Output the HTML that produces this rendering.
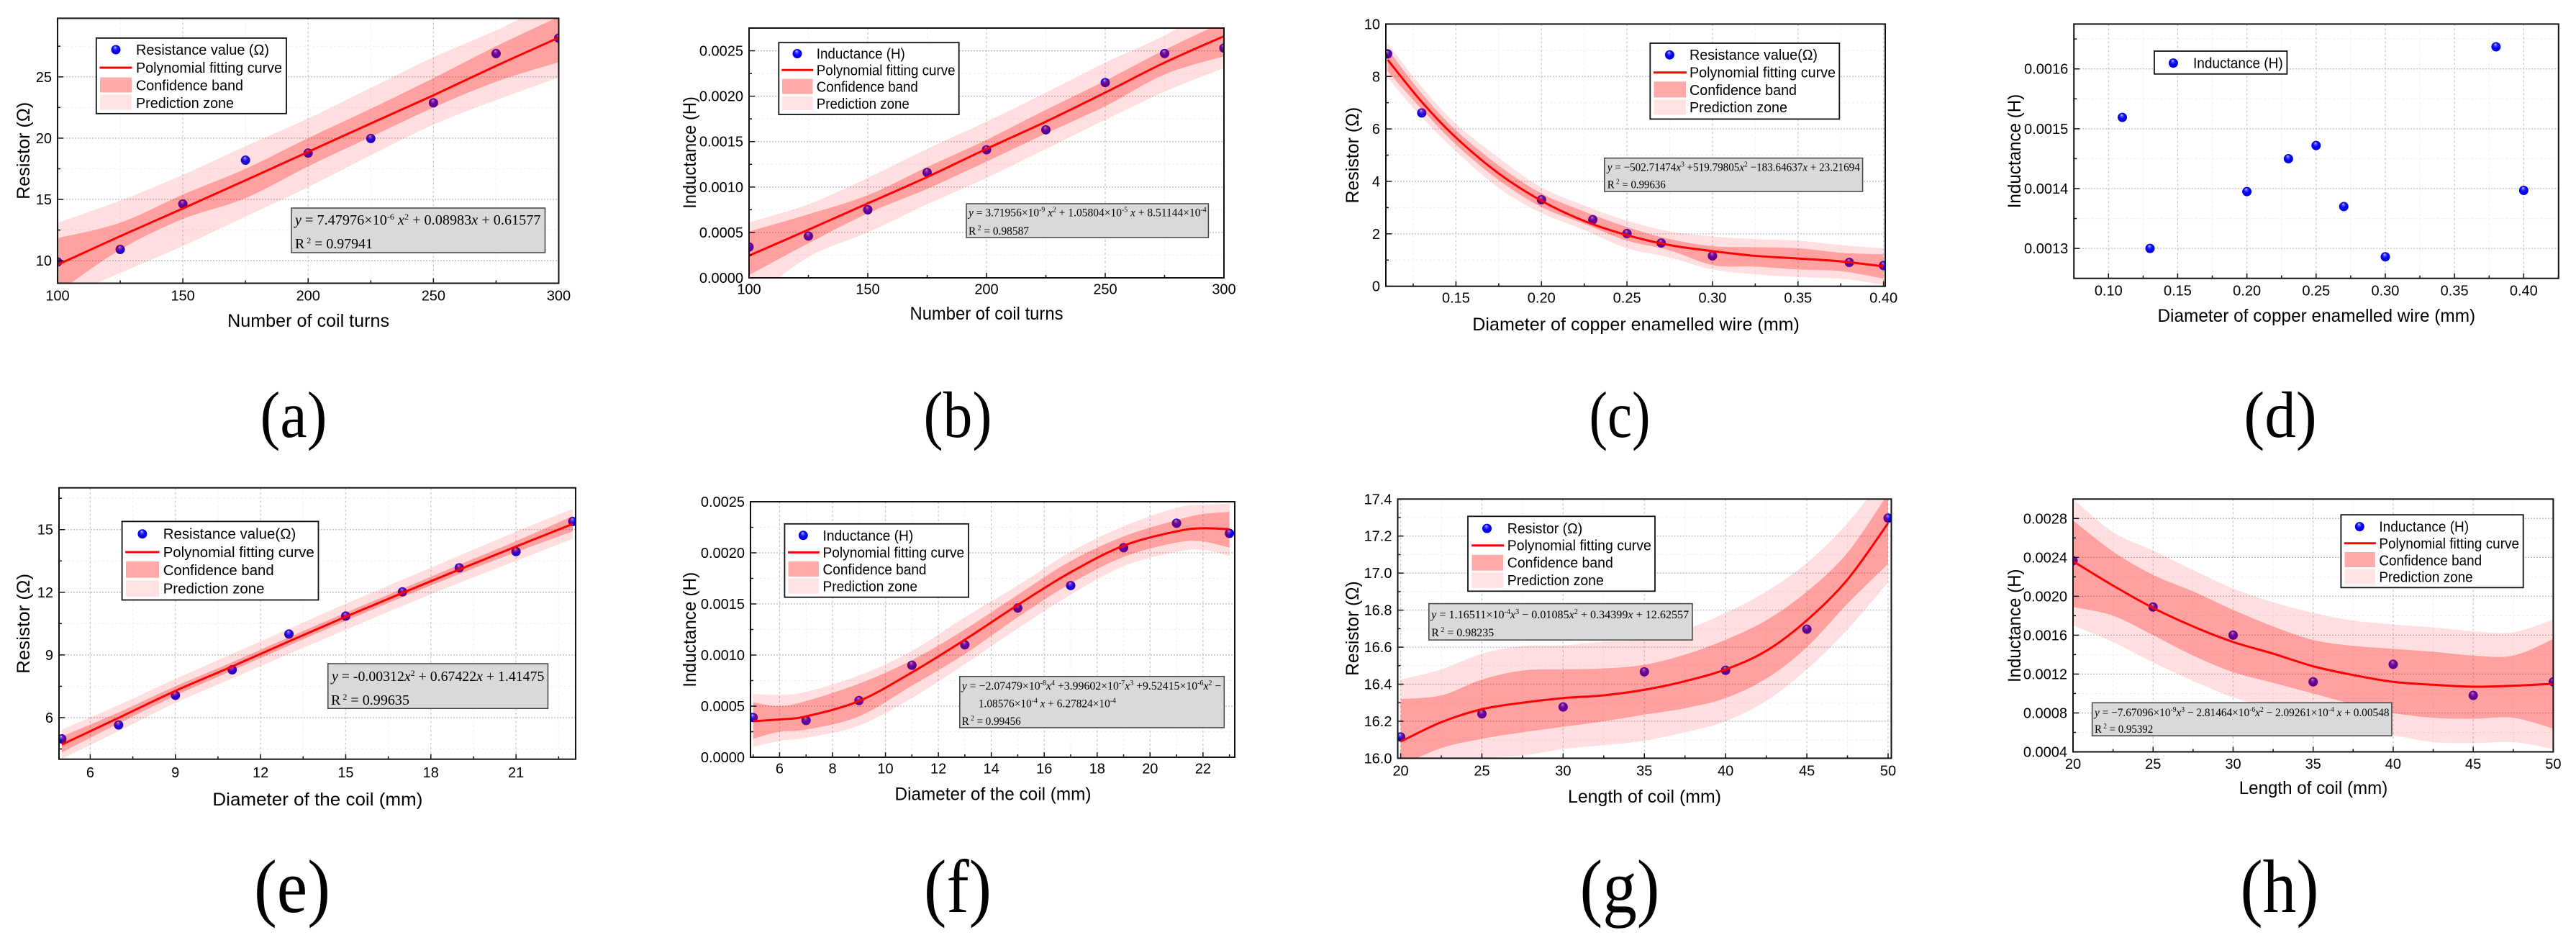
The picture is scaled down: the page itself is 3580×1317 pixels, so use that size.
<!DOCTYPE html>
<html lang="en">
<head>
<meta charset="utf-8">
<title>Coil resistance and inductance fits</title>
<style>
html,body{margin:0;padding:0;background:#fff;}
svg{display:block;}
text{fill:#000;}
.leg{font:20.5px "Liberation Sans",sans-serif;}
.title{font:25px "Liberation Sans",sans-serif;}
.tick{font:20px "Liberation Sans",sans-serif;}
.eq{font:16px "Liberation Serif",serif;}
.eq20{font:20px "Liberation Serif",serif;}
.cap1{font:91px "Liberation Serif",serif;}
.cap2{font:105px "Liberation Serif",serif;}
.it{font-style:italic;}
.box{fill:#d9d9d9;stroke:#444;stroke-width:1.5;}
.lb{fill:#fff;stroke:#111;stroke-width:1.8;}
.conf{fill:#ffa9a9;}
.pred{fill:#ffe2e2;}
.lline{stroke:#f00;stroke-width:3;}
</style>
</head>
<body>
<svg id="figure" xmlns="http://www.w3.org/2000/svg" width="3580" height="1317" viewBox="0 0 3580 1317">
<defs>
<radialGradient id="ball" cx="0.5" cy="0.5" r="0.55" fx="0.42" fy="0.22">
<stop offset="0" stop-color="#eef2ff"/>
<stop offset="0.2" stop-color="#5a5aff"/>
<stop offset="0.5" stop-color="#0808ff"/>
<stop offset="1" stop-color="#0000c8"/>
</radialGradient>
</defs>
<rect width="3580" height="1317" fill="#fff"/>

<!-- Panel a -->
<g>
<g id="marks-a"></g>
<g>
<rect class="lb" x="133.8" y="52.9" width="264.2" height="104.9"/>
<circle cx="161" cy="69" r="6.5" fill="url(#ball)"/>
<line class="lline" x1="138.5" x2="183.5" y1="94" y2="94"/>
<rect class="conf" x="139" y="107.5" width="44" height="21"/>
<rect class="pred" x="139" y="131.6" width="44" height="21"/>
<text class="leg" x="189" y="76" textLength="185" lengthAdjust="spacingAndGlyphs">Resistance value (Ω)</text>
<text class="leg" x="189" y="101" textLength="203" lengthAdjust="spacingAndGlyphs">Polynomial fitting curve</text>
<text class="leg" x="189" y="125.4" textLength="149" lengthAdjust="spacingAndGlyphs">Confidence band</text>
<text class="leg" x="189" y="150" textLength="136" lengthAdjust="spacingAndGlyphs">Prediction zone</text>
</g>
<g>
<rect class="box" x="405" y="289" width="352.5" height="62"/>
<text class="eq20" x="410" y="312" textLength="341.5" lengthAdjust="spacingAndGlyphs"><tspan class="it">y</tspan> = 7.47976×10<tspan dy="-7" font-size="12">-6</tspan><tspan dy="7" class="it"> x</tspan><tspan dy="-7" font-size="12">2</tspan><tspan dy="7"> + 0.08983</tspan><tspan class="it">x</tspan> + 0.61577</text>
<text class="eq20" x="410" y="345" textLength="108" lengthAdjust="spacingAndGlyphs">R<tspan dy="-7" font-size="12"> 2</tspan><tspan dy="7"> = 0.97941</tspan></text>
</g>
<text class="title" text-anchor="middle" transform="translate(41,209.4) rotate(-90)" textLength="135" lengthAdjust="spacingAndGlyphs">Resistor (Ω)</text>
<text class="title" text-anchor="middle" x="428.6" y="454" textLength="225" lengthAdjust="spacingAndGlyphs">Number of coil turns</text>
<text class="cap1" text-anchor="middle" x="408" y="607" textLength="93" lengthAdjust="spacingAndGlyphs">(a)</text>
</g>

<!-- Panel b -->
<g>
<g id="marks-b"></g>
<g>
<rect class="lb" x="1082.3" y="59.2" width="250.4" height="99.8"/>
<circle cx="1108" cy="74.5" r="6.5" fill="url(#ball)"/>
<line class="lline" x1="1086.3" x2="1130.2" y1="97.3" y2="97.3"/>
<rect class="conf" x="1087" y="109.6" width="42.5" height="21"/>
<rect class="pred" x="1087" y="133.7" width="42.5" height="19.5"/>
<text class="leg" x="1134.8" y="81.5" textLength="123" lengthAdjust="spacingAndGlyphs">Inductance (H)</text>
<text class="leg" x="1134.8" y="104.3" textLength="192.7" lengthAdjust="spacingAndGlyphs">Polynomial fitting curve</text>
<text class="leg" x="1134.8" y="127.6" textLength="141" lengthAdjust="spacingAndGlyphs">Confidence band</text>
<text class="leg" x="1134.8" y="150.8" textLength="129" lengthAdjust="spacingAndGlyphs">Prediction zone</text>
</g>
<g>
<rect class="box" x="1343" y="283" width="336.4" height="47"/>
<text class="eq" x="1346" y="300.5" textLength="330.6" lengthAdjust="spacingAndGlyphs"><tspan class="it">y</tspan> = 3.71956×10<tspan dy="-6" font-size="10">-9</tspan><tspan dy="6" class="it"> x</tspan><tspan dy="-6" font-size="10">2</tspan><tspan dy="6"> + 1.05804×10</tspan><tspan dy="-6" font-size="10">-5</tspan><tspan dy="6" class="it"> x</tspan> + 8.51144×10<tspan dy="-6" font-size="10">-4</tspan></text>
<text class="eq" x="1346" y="326" textLength="84" lengthAdjust="spacingAndGlyphs">R<tspan dy="-6" font-size="10"> 2</tspan><tspan dy="6"> = 0.98587</tspan></text>
</g>
<text class="title" text-anchor="middle" transform="translate(967,212) rotate(-90)" textLength="155.7" lengthAdjust="spacingAndGlyphs">Inductance (H)</text>
<text class="title" text-anchor="middle" x="1371" y="444" textLength="213" lengthAdjust="spacingAndGlyphs">Number of coil turns</text>
<text class="cap1" text-anchor="middle" x="1331" y="607" textLength="95" lengthAdjust="spacingAndGlyphs">(b)</text>
</g>

<!-- Panel c -->
<g>
<g id="marks-c"></g>
<g>
<rect class="lb" x="2293.3" y="60" width="263" height="105.4"/>
<circle cx="2320.4" cy="76.2" r="6.5" fill="url(#ball)"/>
<line class="lline" x1="2297.9" x2="2344" y1="100.7" y2="100.7"/>
<rect class="conf" x="2298.5" y="113.4" width="44.5" height="22"/>
<rect class="pred" x="2298.5" y="138.4" width="44.5" height="21"/>
<text class="leg" x="2348" y="83.2" textLength="178" lengthAdjust="spacingAndGlyphs">Resistance value(Ω)</text>
<text class="leg" x="2348" y="107.7" textLength="203" lengthAdjust="spacingAndGlyphs">Polynomial fitting curve</text>
<text class="leg" x="2348" y="131.8" textLength="149" lengthAdjust="spacingAndGlyphs">Confidence band</text>
<text class="leg" x="2348" y="155.9" textLength="136" lengthAdjust="spacingAndGlyphs">Prediction zone</text>
</g>
<g>
<rect class="box" x="2229.8" y="219.6" width="358.8" height="46.4"/>
<text class="eq" x="2233.8" y="237.5" textLength="351" lengthAdjust="spacingAndGlyphs"><tspan class="it">y</tspan> = −502.71474<tspan class="it">x</tspan><tspan dy="-6" font-size="10">3</tspan><tspan dy="6"> +519.79805</tspan><tspan class="it">x</tspan><tspan dy="-6" font-size="10">2</tspan><tspan dy="6"> −183.64637</tspan><tspan class="it">x</tspan> + 23.21694</text>
<text class="eq" x="2233.8" y="261.5" textLength="81" lengthAdjust="spacingAndGlyphs">R<tspan dy="-6" font-size="10"> 2</tspan><tspan dy="6"> = 0.99636</tspan></text>
</g>
<text class="title" text-anchor="middle" transform="translate(1888,215.7) rotate(-90)" textLength="133.7" lengthAdjust="spacingAndGlyphs">Resistor (Ω)</text>
<text class="title" text-anchor="middle" x="2273.6" y="459" textLength="454.6" lengthAdjust="spacingAndGlyphs">Diameter of copper enamelled wire (mm)</text>
<text class="cap1" text-anchor="middle" x="2251" y="607" textLength="85" lengthAdjust="spacingAndGlyphs">(c)</text>
</g>

<!-- Panel d -->
<g>
<g id="marks-d"></g>
<g>
<rect class="lb" x="2993.9" y="71" width="184.5" height="31.8"/>
<circle cx="3020.4" cy="87.6" r="6.5" fill="url(#ball)"/>
<text class="leg" x="3048" y="94.6" textLength="124.7" lengthAdjust="spacingAndGlyphs">Inductance (H)</text>
</g>
<text class="title" text-anchor="middle" transform="translate(2808,210) rotate(-90)" textLength="158.6" lengthAdjust="spacingAndGlyphs">Inductance (H)</text>
<text class="title" text-anchor="middle" x="3219.3" y="446.8" textLength="441.7" lengthAdjust="spacingAndGlyphs">Diameter of copper enamelled wire (mm)</text>
<text class="cap1" text-anchor="middle" x="3169" y="607" textLength="101.5" lengthAdjust="spacingAndGlyphs">(d)</text>
</g>

<!-- Panel e -->
<g>
<g id="marks-e"></g>
<g>
<rect class="lb" x="169.6" y="724.4" width="272.9" height="109.1"/>
<circle cx="197.9" cy="741.7" r="6.5" fill="url(#ball)"/>
<line class="lline" x1="174.2" x2="221.5" y1="767" y2="767"/>
<rect class="conf" x="175" y="780" width="46" height="22.8"/>
<rect class="pred" x="175" y="806.2" width="46" height="22.7"/>
<text class="leg" x="226.7" y="748.7" textLength="184.6" lengthAdjust="spacingAndGlyphs">Resistance value(Ω)</text>
<text class="leg" x="226.7" y="774" textLength="210" lengthAdjust="spacingAndGlyphs">Polynomial fitting curve</text>
<text class="leg" x="226.7" y="798.8" textLength="154" lengthAdjust="spacingAndGlyphs">Confidence band</text>
<text class="leg" x="226.7" y="824.5" textLength="140.8" lengthAdjust="spacingAndGlyphs">Prediction zone</text>
</g>
<g>
<rect class="box" x="455.8" y="922" width="305.7" height="62.3"/>
<text class="eq20" x="461" y="946" textLength="295.4" lengthAdjust="spacingAndGlyphs"><tspan class="it">y</tspan> = -0.00312<tspan class="it">x</tspan><tspan dy="-7" font-size="12">2</tspan><tspan dy="7"> + 0.67422</tspan><tspan class="it">x</tspan> + 1.41475</text>
<text class="eq20" x="460" y="979" textLength="109" lengthAdjust="spacingAndGlyphs">R<tspan dy="-7" font-size="12"> 2</tspan><tspan dy="7"> = 0.99635</tspan></text>
</g>
<text class="title" text-anchor="middle" transform="translate(41,866.4) rotate(-90)" textLength="139" lengthAdjust="spacingAndGlyphs">Resistor (Ω)</text>
<text class="title" text-anchor="middle" x="441.4" y="1119" textLength="292" lengthAdjust="spacingAndGlyphs">Diameter of the coil (mm)</text>
<text class="cap2" text-anchor="middle" x="406" y="1267" textLength="106" lengthAdjust="spacingAndGlyphs">(e)</text>
</g>

<!-- Panel f -->
<g>
<g id="marks-f"></g>
<g>
<rect class="lb" x="1090.4" y="727.8" width="255.6" height="101.9"/>
<circle cx="1116.3" cy="743.8" r="6.5" fill="url(#ball)"/>
<line class="lline" x1="1095" x2="1138.8" y1="767.4" y2="767.4"/>
<rect class="conf" x="1095.5" y="780" width="42.5" height="21.1"/>
<rect class="pred" x="1095.5" y="803.6" width="42.5" height="21.1"/>
<text class="leg" x="1143.5" y="750.8" textLength="125.8" lengthAdjust="spacingAndGlyphs">Inductance (H)</text>
<text class="leg" x="1143.5" y="774.4" textLength="196.7" lengthAdjust="spacingAndGlyphs">Polynomial fitting curve</text>
<text class="leg" x="1143.5" y="798" textLength="144" lengthAdjust="spacingAndGlyphs">Confidence band</text>
<text class="leg" x="1143.5" y="821.6" textLength="131.5" lengthAdjust="spacingAndGlyphs">Prediction zone</text>
</g>
<g>
<rect class="box" x="1333.8" y="939.7" width="367.5" height="71.2"/>
<text class="eq" x="1336.7" y="958" textLength="360.6" lengthAdjust="spacingAndGlyphs"><tspan class="it">y</tspan> = −2.07479×10<tspan dy="-6" font-size="10">-8</tspan><tspan dy="6" class="it">x</tspan><tspan dy="-6" font-size="10">4</tspan><tspan dy="6"> +3.99602×10</tspan><tspan dy="-6" font-size="10">-7</tspan><tspan dy="6" class="it">x</tspan><tspan dy="-6" font-size="10">3</tspan><tspan dy="6"> +9.52415×10</tspan><tspan dy="-6" font-size="10">-6</tspan><tspan dy="6" class="it">x</tspan><tspan dy="-6" font-size="10">2</tspan><tspan dy="6"> −</tspan></text>
<text class="eq" x="1359.8" y="982.5" textLength="191" lengthAdjust="spacingAndGlyphs">1.08576×10<tspan dy="-6" font-size="10">-4</tspan><tspan dy="6" class="it"> x</tspan> + 6.27824×10<tspan dy="-6" font-size="10">-4</tspan></text>
<text class="eq" x="1336.7" y="1007" textLength="82" lengthAdjust="spacingAndGlyphs">R<tspan dy="-6" font-size="10"> 2</tspan><tspan dy="6"> = 0.99456</tspan></text>
</g>
<text class="title" text-anchor="middle" transform="translate(967,874.8) rotate(-90)" textLength="160" lengthAdjust="spacingAndGlyphs">Inductance (H)</text>
<text class="title" text-anchor="middle" x="1380" y="1111.5" textLength="273" lengthAdjust="spacingAndGlyphs">Diameter of the coil (mm)</text>
<text class="cap2" text-anchor="middle" x="1331" y="1267" textLength="94" lengthAdjust="spacingAndGlyphs">(f)</text>
</g>

<!-- Panel g -->
<g>
<g id="marks-g"></g>
<g>
<rect class="lb" x="2040" y="717.3" width="260" height="104"/>
<circle cx="2066.5" cy="734.1" r="6.5" fill="url(#ball)"/>
<line class="lline" x1="2045.2" x2="2090.2" y1="757.7" y2="757.7"/>
<rect class="conf" x="2045.5" y="770.8" width="43.5" height="21.9"/>
<rect class="pred" x="2045.5" y="795.2" width="43.5" height="21.5"/>
<text class="leg" x="2094.8" y="741.1" textLength="104.4" lengthAdjust="spacingAndGlyphs">Resistor (Ω)</text>
<text class="leg" x="2094.8" y="764.7" textLength="200" lengthAdjust="spacingAndGlyphs">Polynomial fitting curve</text>
<text class="leg" x="2094.8" y="788.7" textLength="147" lengthAdjust="spacingAndGlyphs">Confidence band</text>
<text class="leg" x="2094.8" y="813.2" textLength="134" lengthAdjust="spacingAndGlyphs">Prediction zone</text>
</g>
<g>
<rect class="box" x="1985.8" y="838.6" width="366.2" height="50.5"/>
<text class="eq" x="1989.2" y="859" textLength="358" lengthAdjust="spacingAndGlyphs"><tspan class="it">y</tspan> = 1.16511×10<tspan dy="-6" font-size="10">-4</tspan><tspan dy="6" class="it">x</tspan><tspan dy="-6" font-size="10">3</tspan><tspan dy="6"> − 0.01085</tspan><tspan class="it">x</tspan><tspan dy="-6" font-size="10">2</tspan><tspan dy="6"> + 0.34399</tspan><tspan class="it">x</tspan> + 12.62557</text>
<text class="eq" x="1989.2" y="884" textLength="87" lengthAdjust="spacingAndGlyphs">R<tspan dy="-6" font-size="10"> 2</tspan><tspan dy="6"> = 0.98235</tspan></text>
</g>
<text class="title" text-anchor="middle" transform="translate(1888,873) rotate(-90)" textLength="131.4" lengthAdjust="spacingAndGlyphs">Resistor (Ω)</text>
<text class="title" text-anchor="middle" x="2285.5" y="1115" textLength="213" lengthAdjust="spacingAndGlyphs">Length of coil (mm)</text>
<text class="cap2" text-anchor="middle" x="2251" y="1267" textLength="111" lengthAdjust="spacingAndGlyphs">(g)</text>
</g>

<!-- Panel h -->
<g>
<g id="marks-h"></g>
<g>
<rect class="lb" x="3253.4" y="715.2" width="253.3" height="101.1"/>
<circle cx="3279.3" cy="731.6" r="6.5" fill="url(#ball)"/>
<line class="lline" x1="3257.9" x2="3301.9" y1="754.8" y2="754.8"/>
<rect class="conf" x="3258.5" y="767" width="42.3" height="21"/>
<rect class="pred" x="3258.5" y="790.6" width="42.3" height="21"/>
<text class="leg" x="3306.4" y="738.6" textLength="124.7" lengthAdjust="spacingAndGlyphs">Inductance (H)</text>
<text class="leg" x="3306.4" y="761.8" textLength="194.6" lengthAdjust="spacingAndGlyphs">Polynomial fitting curve</text>
<text class="leg" x="3306.4" y="785.4" textLength="142.7" lengthAdjust="spacingAndGlyphs">Confidence band</text>
<text class="leg" x="3306.4" y="808.5" textLength="130.3" lengthAdjust="spacingAndGlyphs">Prediction zone</text>
</g>
<g>
<rect class="box" x="2907.6" y="976.3" width="416.3" height="45.9"/>
<text class="eq" x="2911" y="995" textLength="409.5" lengthAdjust="spacingAndGlyphs"><tspan class="it">y</tspan> = −7.67096×10<tspan dy="-6" font-size="10">-9</tspan><tspan dy="6" class="it">x</tspan><tspan dy="-6" font-size="10">3</tspan><tspan dy="6"> − 2.81464×10</tspan><tspan dy="-6" font-size="10">-6</tspan><tspan dy="6" class="it">x</tspan><tspan dy="-6" font-size="10">2</tspan><tspan dy="6"> − 2.09261×10</tspan><tspan dy="-6" font-size="10">-4</tspan><tspan dy="6" class="it"> x</tspan> + 0.00548</text>
<text class="eq" x="2911" y="1018" textLength="81.2" lengthAdjust="spacingAndGlyphs">R<tspan dy="-6" font-size="10"> 2</tspan><tspan dy="6"> = 0.95392</tspan></text>
</g>
<text class="title" text-anchor="middle" transform="translate(2808,869.3) rotate(-90)" textLength="157.5" lengthAdjust="spacingAndGlyphs">Inductance (H)</text>
<text class="title" text-anchor="middle" x="3215" y="1103" textLength="206.5" lengthAdjust="spacingAndGlyphs">Length of coil (mm)</text>
<text class="cap2" text-anchor="middle" x="3168" y="1267" textLength="109" lengthAdjust="spacingAndGlyphs">(h)</text>
</g>
</svg>

<script>
/* ---------- Panel a data ---------- */
const aXDomain = [100, 300];
const aYDomain = [8.16, 29.78];
const aXTicks = ['100', '150', '200', '250', '300'];
const aYTicks = ['10', '15', '20', '25'];
const aPointX = [100, 125, 150, 175, 200, 225, 250, 275, 300];
const aPointY = [9.9, 10.92, 14.63, 18.2, 18.78, 19.97, 22.88, 26.9, 28.16];
const aCurveX = [100, 125, 150, 175, 200, 225, 250, 275, 300];
const aFit = [9.67, 12.0, 14.26, 16.56, 18.88, 21.2, 23.5, 25.9, 28.2];
const aConfUpper = [11.84, 13.1, 15.4, 17.5, 20, 22.4, 24.9, 27.5, 29.9];
const aConfLower = [7.4, 10.9, 13.4, 15.1, 17.7, 20.1, 22.5, 24.6, 26.2];
const aPredUpper = [13.1, 14.9, 17, 19.35, 21.6, 24.1, 26.6, 28.8, 31.3];
const aPredLower = [6.8, 9, 11.2, 13.6, 16, 18.6, 21.1, 23.1, 24.95];

/* ---------- Panel b data ---------- */
const bXDomain = [100, 300];
const bYDomain = [0, 0.00275];
const bXTicks = ['100', '150', '200', '250', '300'];
const bYTicks = ['0.0000', '0.0005', '0.0010', '0.0015', '0.0020', '0.0025'];
const bPointX = [100, 125, 150, 175, 200, 225, 250, 275, 300];
const bPointY = [0.00034, 0.00046, 0.00075, 0.00116, 0.00141, 0.00163, 0.00215, 0.00247, 0.00253];
const bCurveX = [100, 125, 150, 175, 200, 225, 250, 275, 300];
const bFit = [0.000245, 0.00053, 0.00082, 0.00111, 0.00142, 0.00172, 0.00204, 0.00237, 0.00266];
const bConfUpper = [0.00051, 0.0007, 0.00091, 0.00122, 0.00152, 0.00185, 0.00217, 0.00251, 0.00282];
const bConfLower = [0.00003, 0.00038, 0.00071, 0.00098, 0.00128, 0.00159, 0.00189, 0.00224, 0.00244];
const bPredUpper = [0.00061, 0.00081, 0.0011, 0.00142, 0.00172, 0.00204, 0.00237, 0.00267, 0.00306];
const bPredLower = [-0.00026, 0.00023, 0.0005, 0.00081, 0.0011, 0.00142, 0.00174, 0.00205, 0.00231];

/* ---------- Panel c data ---------- */
const cXDomain = [0.109, 0.401];
const cYDomain = [0, 10];
const cXTicks = ['0.15', '0.20', '0.25', '0.30', '0.35', '0.40'];
const cYTicks = ['0', '2', '4', '6', '8', '10'];
const cPointX = [0.11, 0.13, 0.20, 0.23, 0.25, 0.27, 0.30, 0.38, 0.40];
const cPointY = [8.86, 6.61, 3.3, 2.54, 2.01, 1.65, 1.16, 0.91, 0.79];
const cCurveX = [0.11, 0.13, 0.15, 0.175, 0.20, 0.225, 0.25, 0.275, 0.30, 0.325, 0.35, 0.375, 0.40];
const cFit = [8.64, 7.03, 5.67, 4.3, 3.26, 2.49, 1.95, 1.57, 1.34, 1.16, 1.06, 0.95, 0.76];
const cConfUpper = [9.05, 7.35, 5.95, 4.6, 3.54, 2.85, 2.26, 1.8, 1.53, 1.49, 1.45, 1.28, 1.22];
const cConfLower = [8.2, 6.75, 5.4, 4.05, 3.02, 2.38, 1.74, 1.37, 0.81, 0.75, 0.64, 0.58, 0.29];
const cPredUpper = [9.27, 7.6, 6.2, 4.9, 3.77, 3.08, 2.5, 2.09, 1.9, 1.8, 1.74, 1.57, 1.45];
const cPredLower = [7.95, 6.45, 5.15, 3.75, 2.79, 2.15, 1.45, 1.1, 0.64, 0.46, 0.35, 0.29, 0.06];

/* ---------- Panel d data ---------- */
const dXDomain = [0.075, 0.4252];
const dYDomain = [0.00125, 0.001675];
const dXTicks = ['0.10', '0.15', '0.20', '0.25', '0.30', '0.35', '0.40'];
const dYTicks = ['0.0013', '0.0014', '0.0015', '0.0016'];
const dPointX = [0.11, 0.13, 0.20, 0.23, 0.25, 0.27, 0.30, 0.38, 0.40];
const dPointY = [0.001519, 0.0013, 0.001395, 0.00145, 0.001472, 0.00137, 0.001286, 0.001637, 0.001397];

/* ---------- Panel e data ---------- */
const eXDomain = [4.9, 23.1];
const eYDomain = [4.01, 17.0];
const eXTicks = ['6', '9', '12', '15', '18', '21'];
const eYTicks = ['6', '9', '12', '15'];
const ePointX = [5, 7, 9, 11, 13, 15, 17, 19, 21, 23];
const ePointY = [4.98, 5.65, 7.07, 8.29, 10.0, 10.86, 12.02, 13.17, 13.95, 15.39];
const eCurveX = [5, 7, 9, 11, 13, 15, 17, 19, 21, 23];
const eFit = [4.71, 5.99, 7.28, 8.45, 9.65, 10.83, 11.97, 13.09, 14.19, 15.27];
const eConfUpper = [5.1, 6.25, 7.5, 8.65, 9.85, 11.02, 12.17, 13.32, 14.45, 15.65];
const eConfLower = [4.33, 5.72, 7.05, 8.25, 9.45, 10.63, 11.77, 12.87, 13.92, 14.92];
const ePredUpper = [5.42, 6.6, 7.85, 9.05, 10.25, 11.45, 12.6, 13.75, 14.9, 16.0];
const ePredLower = [4.03, 5.35, 6.7, 7.87, 9.05, 10.2, 11.35, 12.45, 13.5, 14.56];

/* ---------- Panel f data ---------- */
const fXDomain = [4.9, 23.2];
const fYDomain = [0, 0.0025];
const fXTicks = ['6', '8', '10', '12', '14', '16', '18', '20', '22'];
const fYTicks = ['0.0000', '0.0005', '0.0010', '0.0015', '0.0020', '0.0025'];
const fPointX = [5, 7, 9, 11, 13, 15, 17, 19, 21, 23];
const fPointY = [0.000389, 0.00036, 0.000555, 0.0009, 0.0011, 0.00146, 0.00168, 0.00205, 0.00229, 0.00219];
const fCurveX = [5, 6, 7, 9, 11, 13, 15, 17, 19, 21, 22, 23];
const fFit = [0.000353, 0.00037, 0.0004, 0.00055, 0.00083, 0.00115, 0.00149, 0.00181, 0.00207, 0.00221, 0.00224, 0.00223];
const fConfUpper = [0.000537, 0.0005, 0.00055, 0.00072, 0.00095, 0.00125, 0.00159, 0.00192, 0.00216, 0.00232, 0.00238, 0.0024];
const fConfLower = [0.00018, 0.00025, 0.00027, 0.0004, 0.0007, 0.00101, 0.00137, 0.0017, 0.00196, 0.0021, 0.00211, 0.00205];
const fPredUpper = [0.00062, 0.00061, 0.00064, 0.0008, 0.00104, 0.00137, 0.00168, 0.00201, 0.00226, 0.00244, 0.00247, 0.00248];
const fPredLower = [0.0001, 0.00016, 0.00019, 0.00031, 0.00058, 0.00091, 0.00126, 0.00159, 0.00187, 0.00201, 0.00203, 0.00197];

/* ---------- Panel g data ---------- */
const gXDomain = [19.82, 50.2];
const gYDomain = [16.0, 17.4];
const gXTicks = ['20', '25', '30', '35', '40', '45', '50'];
const gYTicks = ['16.0', '16.2', '16.4', '16.6', '16.8', '17.0', '17.2', '17.4'];
const gPointX = [20, 25, 30, 35, 40, 45, 50];
const gPointY = [16.115, 16.24, 16.277, 16.467, 16.475, 16.697, 17.297];
const gCurveX = [20, 22.5, 25, 27.5, 30, 32.5, 35, 37.5, 40, 42.5, 45, 47.5, 50];
const gFit = [16.09, 16.195, 16.265, 16.3, 16.325, 16.34, 16.37, 16.416, 16.48, 16.58, 16.745, 16.965, 17.27];
const gConfUpper = [16.32, 16.34, 16.425, 16.474, 16.48, 16.485, 16.505, 16.56, 16.64, 16.745, 16.9, 17.11, 17.43];
const gConfLower = [15.96, 16.055, 16.105, 16.14, 16.17, 16.2, 16.236, 16.27, 16.325, 16.43, 16.6, 16.835, 17.05];
const gPredUpper = [16.425, 16.48, 16.565, 16.605, 16.61, 16.63, 16.64, 16.695, 16.785, 16.9, 17.055, 17.27, 17.55];
const gPredLower = [15.875, 15.96, 16.0, 16.015, 16.05, 16.07, 16.095, 16.14, 16.2, 16.31, 16.48, 16.695, 16.95];

/* ---------- Panel h data ---------- */
const hXDomain = [20, 50];
const hYDomain = [0.0004, 0.003];
const hXTicks = ['20', '25', '30', '35', '40', '45', '50'];
const hYTicks = ['0.0004', '0.0008', '0.0012', '0.0016', '0.0020', '0.0024', '0.0028'];
const hPointX = [20, 25, 30, 35, 40, 45, 50];
const hPointY = [0.002366, 0.00189, 0.0016, 0.00112, 0.0013, 0.00098, 0.00112];
const hCurveX = [20, 22.5, 25, 27.5, 30, 32.5, 35, 37.5, 40, 42.5, 45, 47.5, 50];
const hFit = [0.00236, 0.00211, 0.00188, 0.00169, 0.00153, 0.00141, 0.00128, 0.00119, 0.00112, 0.00109, 0.00107, 0.00108, 0.0011];
const hConfUpper = [0.00278, 0.00246, 0.00222, 0.00205, 0.00186, 0.00169, 0.00155, 0.00149, 0.00146, 0.00143, 0.00139, 0.00139, 0.00156];
const hConfLower = [0.00189, 0.0018, 0.0016, 0.00139, 0.00122, 0.00111, 0.001, 0.00089, 0.0008, 0.00075, 0.00074, 0.00075, 0.00064];
const hPredUpper = [0.003, 0.00266, 0.00247, 0.00227, 0.00208, 0.00194, 0.00183, 0.00175, 0.00171, 0.00168, 0.00164, 0.00163, 0.00176];
const hPredLower = [0.0017, 0.00153, 0.00132, 0.00113, 0.00096, 0.00085, 0.00075, 0.00064, 0.00057, 0.0005, 0.00049, 0.0005, 0.00043];

/* ---------- Panel wiring: frame geometry lives here, values live above ---------- */
const panels = [
  {id:'a', left:80, right:776.5, top:25.4, bottom:393.5, labelDy:24, xd:aXDomain, yd:aYDomain, xt:aXTicks, yt:aYTicks, px:aPointX, py:aPointY, cx:aCurveX, fit:aFit, cu:aConfUpper, cl:aConfLower, pu:aPredUpper, pl:aPredLower},
  {id:'b', left:1041, right:1701, top:39, bottom:386, labelDy:22.6, xd:bXDomain, yd:bYDomain, xt:bXTicks, yt:bYTicks, px:bPointX, py:bPointY, cx:bCurveX, fit:bFit, cu:bConfUpper, cl:bConfLower, pu:bPredUpper, pl:bPredLower},
  {id:'c', left:1926, right:2620, top:33.4, bottom:397.7, labelDy:23, xd:cXDomain, yd:cYDomain, xt:cXTicks, yt:cYTicks, px:cPointX, py:cPointY, cx:cCurveX, fit:cFit, cu:cConfUpper, cl:cConfLower, pu:cPredUpper, pl:cPredLower},
  {id:'d', left:2882.2, right:3555.8, top:33.4, bottom:386.7, labelDy:24, xd:dXDomain, yd:dYDomain, xt:dXTicks, yt:dYTicks, px:dPointX, py:dPointY},
  {id:'e', left:82, right:800, top:677.7, bottom:1054.7, labelDy:25.5, xd:eXDomain, yd:eYDomain, xt:eXTicks, yt:eYTicks, px:ePointX, py:ePointY, cx:eCurveX, fit:eFit, cu:eConfUpper, cl:eConfLower, pu:ePredUpper, pl:ePredLower},
  {id:'f', left:1043, right:1716, top:697, bottom:1052, labelDy:22.6, xd:fXDomain, yd:fYDomain, xt:fXTicks, yt:fYTicks, px:fPointX, py:fPointY, cx:fCurveX, fit:fFit, cu:fConfUpper, cl:fConfLower, pu:fPredUpper, pl:fPredLower},
  {id:'g', left:1942.5, right:2628.5, top:693.3, bottom:1053.4, labelDy:24.3, xd:gXDomain, yd:gYDomain, xt:gXTicks, yt:gYTicks, px:gPointX, py:gPointY, cx:gCurveX, fit:gFit, cu:gConfUpper, cl:gConfLower, pu:gPredUpper, pl:gPredLower},
  {id:'h', left:2881, right:3548.4, top:693.3, bottom:1044.5, labelDy:23.4, xd:hXDomain, yd:hYDomain, xt:hXTicks, yt:hYTicks, px:hPointX, py:hPointY, cx:hCurveX, fit:hFit, cu:hConfUpper, cl:hConfLower, pu:hPredUpper, pl:hPredLower}
];

const NS = 'http://www.w3.org/2000/svg';
function mk(tag, parent) {
  const el = document.createElementNS(NS, tag);
  parent.appendChild(el);
  return el;
}
function smooth(pts, moveFirst) {
  let d = (moveFirst ? 'M' : 'L') + pts[0][0].toFixed(2) + ' ' + pts[0][1].toFixed(2);
  for (let i = 0; i < pts.length - 1; i++) {
    const p0 = pts[Math.max(0, i - 1)], p1 = pts[i], p2 = pts[i + 1], p3 = pts[Math.min(pts.length - 1, i + 2)];
    const c1x = p1[0] + (p2[0] - p0[0]) / 6, c1y = p1[1] + (p2[1] - p0[1]) / 6;
    const c2x = p2[0] - (p3[0] - p1[0]) / 6, c2y = p2[1] - (p3[1] - p1[1]) / 6;
    d += 'C' + c1x.toFixed(2) + ' ' + c1y.toFixed(2) + ' ' + c2x.toFixed(2) + ' ' + c2y.toFixed(2) + ' ' + p2[0].toFixed(2) + ' ' + p2[1].toFixed(2);
  }
  return d;
}
function bandPath(cx, up, lo, sx, sy) {
  const u = cx.map((v, i) => [sx(v), sy(up[i])]);
  const l = cx.map((v, i) => [sx(v), sy(lo[i])]).reverse();
  return smooth(u, true) + smooth(l, false) + 'Z';
}
function minorValues(ticks, domain) {
  const vals = ticks.map(parseFloat);
  const step = vals[1] - vals[0];
  const out = [];
  for (let k = -2; k < vals.length + 2; k++) {
    const v = vals[0] + (k + 0.5) * step;
    if (v >= domain[0] && v <= domain[1]) out.push(v);
  }
  return out;
}

panels.forEach(function (p) {
  const root = document.getElementById('marks-' + p.id);
  const sx = v => p.left + (v - p.xd[0]) / (p.xd[1] - p.xd[0]) * (p.right - p.left);
  const sy = v => p.bottom - (v - p.yd[0]) / (p.yd[1] - p.yd[0]) * (p.bottom - p.top);

  const clip = mk('clipPath', root);
  clip.setAttribute('id', 'clip-' + p.id);
  const clipRect = mk('rect', clip);
  clipRect.setAttribute('x', p.left);
  clipRect.setAttribute('y', p.top);
  clipRect.setAttribute('width', p.right - p.left);
  clipRect.setAttribute('height', p.bottom - p.top);

  /* grid */
  minorValues(p.xt, p.xd).forEach(function (v) {
    const g = mk('line', root);
    
    
    g.setAttribute('x1', sx(v)); g.setAttribute('x2', sx(v));
    g.setAttribute('y1', p.top); g.setAttribute('y2', p.bottom);
    g.setAttribute('stroke', '#eee'); g.setAttribute('stroke-dasharray', '3 3');
  });
  minorValues(p.yt, p.yd).forEach(function (v) {
    const g = mk('line', root);
    
    
    g.setAttribute('x1', p.left); g.setAttribute('x2', p.right);
    g.setAttribute('y1', sy(v)); g.setAttribute('y2', sy(v));
    g.setAttribute('stroke', '#eee'); g.setAttribute('stroke-dasharray', '3 3');
  });
  p.xt.forEach(function (t) {
    const g = mk('line', root);
    
    
    g.setAttribute('x1', sx(parseFloat(t))); g.setAttribute('x2', sx(parseFloat(t)));
    g.setAttribute('y1', p.top); g.setAttribute('y2', p.bottom);
    g.setAttribute('stroke', '#c8c8c8'); g.setAttribute('stroke-width', '1.2'); g.setAttribute('stroke-dasharray', '3 3');
  });
  p.yt.forEach(function (t) {
    const g = mk('line', root);
    
    
    g.setAttribute('x1', p.left); g.setAttribute('x2', p.right);
    g.setAttribute('y1', sy(parseFloat(t))); g.setAttribute('y2', sy(parseFloat(t)));
    g.setAttribute('stroke', '#bbb'); g.setAttribute('stroke-width', '1.3'); g.setAttribute('stroke-dasharray', '2 2');
  });

  const clipped = mk('g', root);
  
  
  clipped.setAttribute('clip-path', 'url(#clip-' + p.id + ')');

  /* points sit under the translucent bands, which tints them purple */
  p.px.forEach(function (x, i) {
    const c = mk('circle', clipped);
    
    
    c.setAttribute('cx', sx(x));
    c.setAttribute('cy', sy(p.py[i]));
    c.setAttribute('r', '6.5');
    c.setAttribute('fill', 'url(#ball)');
  });

  if (p.cx) {
    const pred = mk('path', clipped);
    
    
    pred.setAttribute('d', bandPath(p.cx, p.pu, p.pl, sx, sy));
    pred.setAttribute('fill', 'rgba(255,0,0,0.125)');

    const conf = mk('path', clipped);
    
    
    conf.setAttribute('d', bandPath(p.cx, p.cu, p.cl, sx, sy));
    conf.setAttribute('fill', 'rgba(255,0,0,0.28)');

    const fit = mk('path', clipped);
    
    
    fit.setAttribute('d', smooth(p.cx.map((v, i) => [sx(v), sy(p.fit[i])]), true));
    fit.setAttribute('fill', 'none');
    fit.setAttribute('stroke', '#f00');
    fit.setAttribute('stroke-width', '3');
  }

  /* frame */
  const frame = mk('rect', root);
  
  
  frame.setAttribute('x', p.left);
  frame.setAttribute('y', p.top);
  frame.setAttribute('width', p.right - p.left);
  frame.setAttribute('height', p.bottom - p.top);
  frame.setAttribute('fill', 'none');
  frame.setAttribute('stroke', '#111');
  frame.setAttribute('stroke-width', '2');

  /* ticks and labels */
  minorValues(p.xt, p.xd).forEach(function (v) {
    const t = mk('line', root);
    
    
    t.setAttribute('x1', sx(v)); t.setAttribute('x2', sx(v));
    t.setAttribute('y1', p.bottom); t.setAttribute('y2', p.bottom - 4);
    t.setAttribute('stroke', '#111'); t.setAttribute('stroke-width', '1.5');
  });
  minorValues(p.yt, p.yd).forEach(function (v) {
    const t = mk('line', root);
    
    
    t.setAttribute('x1', p.left); t.setAttribute('x2', p.left + 4);
    t.setAttribute('y1', sy(v)); t.setAttribute('y2', sy(v));
    t.setAttribute('stroke', '#111'); t.setAttribute('stroke-width', '1.5');
  });
  p.xt.forEach(function (label) {
    const v = parseFloat(label);
    const t = mk('line', root);
    
    
    t.setAttribute('x1', sx(v)); t.setAttribute('x2', sx(v));
    t.setAttribute('y1', p.bottom); t.setAttribute('y2', p.bottom - 7);
    t.setAttribute('stroke', '#111'); t.setAttribute('stroke-width', '1.5');
    const s = mk('text', root);
    
    
    s.setAttribute('class', 'tick');
    s.setAttribute('text-anchor', 'middle');
    s.setAttribute('x', sx(v));
    s.setAttribute('y', p.bottom + p.labelDy);
    s.textContent = label;
  });
  p.yt.forEach(function (label) {
    const v = parseFloat(label);
    const t = mk('line', root);
    
    
    t.setAttribute('x1', p.left); t.setAttribute('x2', p.left + 8);
    t.setAttribute('y1', sy(v)); t.setAttribute('y2', sy(v));
    t.setAttribute('stroke', '#111'); t.setAttribute('stroke-width', '1.5');
    const s = mk('text', root);
    
    
    s.setAttribute('class', 'tick');
    s.setAttribute('text-anchor', 'end');
    s.setAttribute('x', p.left - 8);
    s.setAttribute('y', sy(v) + 7);
    s.textContent = label;
  });
});
</script>
</body>
</html>
